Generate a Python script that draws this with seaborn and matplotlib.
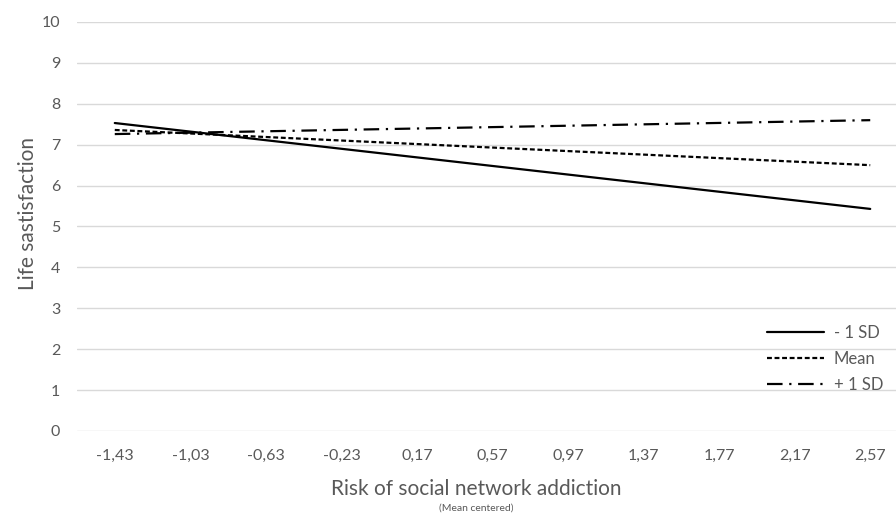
#!/usr/bin/env python3
"""Simple slopes plot: life satisfaction vs risk of social network addiction."""
import numpy as np
import pandas as pd
import matplotlib
matplotlib.use("Agg")
import matplotlib.pyplot as plt
import seaborn as sns

# Data
X_ENDS = [-1.43, 2.57]
LOW_SD = [7.53, 5.43]
MEAN = [7.36, 6.50]
HIGH_SD = [7.26, 7.60]
SERIES = ["- 1 SD", "Mean", "+ 1 SD"]
X_TICKS = [-1.43, -1.03, -0.63, -0.23, 0.17, 0.57, 0.97, 1.37, 1.77, 2.17, 2.57]
Y_TICKS = list(range(0, 11))

GREY = "#595959"

sns.set_theme(style="white")
plt.rcParams["font.family"] = ["Lato", "DejaVu Sans"]

df = pd.DataFrame({
    "x": X_ENDS * 3,
    "y": LOW_SD + MEAN + HIGH_SD,
    "series": [s for s in SERIES for _ in X_ENDS],
})

fig = plt.figure(figsize=(8.96, 5.17), dpi=100)
ax = fig.add_axes([77 / 896, 1 - 431 / 517, (908 - 77) / 896, (431 - 22) / 517])

sns.lineplot(data=df, x="x", y="y", hue="series", style="series",
             palette={s: "black" for s in SERIES},
             dashes={"- 1 SD": "", "Mean": (2.2, 1.2), "+ 1 SD": (7, 3, 1, 3)},
             linewidth=1.6, ax=ax, legend=True)

ax.set_xlim(-1.63, 2.77)
ax.set_ylim(0, 10)
ax.set_xticks(X_TICKS)
ax.set_xticklabels([f"{t:.2f}".replace(".", ",") for t in X_TICKS])
ax.set_yticks(Y_TICKS)
ax.tick_params(axis="both", length=0, labelsize=11.5, labelcolor=GREY)
ax.tick_params(axis="x", pad=13)
ax.tick_params(axis="y", pad=12)
ax.grid(axis="y", color="#d9d9d9", lw=1)
ax.grid(axis="x", visible=False)
ax.set_axisbelow(True)
for sp in ax.spines.values():
    sp.set_visible(False)
ax.set_xlabel("")
ax.set_ylabel("")

handles, labels = ax.get_legend_handles_labels()
ax.legend(handles, labels, loc="upper left", bbox_to_anchor=(752 / 896, 1 - 310 / 517),
          bbox_transform=fig.transFigure, frameon=False, fontsize=12,
          handlelength=3.4, handletextpad=0.6, labelspacing=0.6,
          labelcolor=GREY)

fig.text(28 / 896, 1 - 213 / 517, "Life sastisfaction", rotation=90,
         ha="center", va="center", fontsize=15, color=GREY)
fig.text(476 / 896, 1 - 489 / 517, "Risk of social network addiction",
         ha="center", va="center", fontsize=15, color=GREY)
fig.text(476 / 896, 1 - 508 / 517, "(Mean centered)",
         ha="center", va="center", fontsize=7.5, color=GREY)

fig.savefig("out.png", dpi=100)
